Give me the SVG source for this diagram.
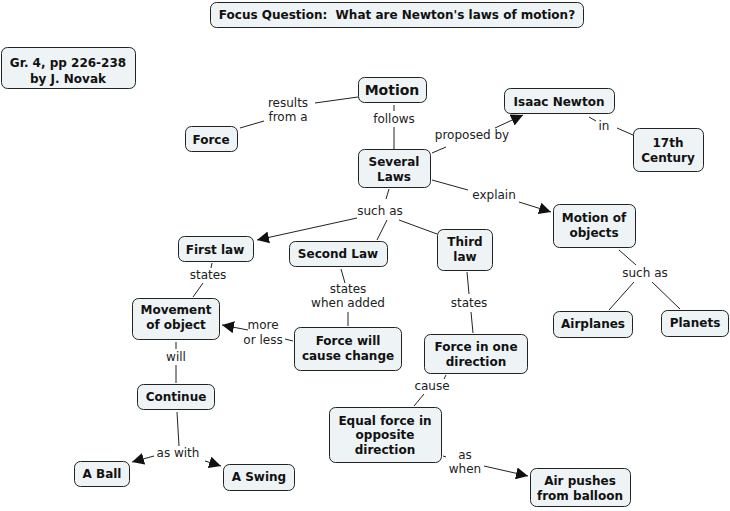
<svg xmlns="http://www.w3.org/2000/svg" width="730" height="511" viewBox="0 0 730 511">
<style>
.n rect{fill:#eef3f5;stroke:#222;stroke-width:1}
.n text{font-family:"DejaVu Sans",Verdana,sans-serif;font-weight:bold;font-size:12px;fill:#111;text-anchor:middle}
.l text{font-family:"DejaVu Sans",Verdana,sans-serif;font-size:12px;fill:#222;text-anchor:middle}
.c line{stroke:#222;stroke-width:1}
.a{marker-end:url(#ar)}
</style>
<defs>
<marker id="ar" viewBox="0 0 10 10" refX="10" refY="5" markerWidth="12" markerHeight="12" markerUnits="userSpaceOnUse" orient="auto"><path d="M0,0L10,5L0,10z" fill="#111"/></marker>
</defs>
<rect width="730" height="511" fill="#fff"/>
<g id="connectors" class="c">
<line x1="240" y1="128" x2="264" y2="121"/>
<line x1="315" y1="103" x2="358" y2="97"/>
<line x1="394" y1="105" x2="394" y2="111"/>
<line x1="394" y1="127" x2="394" y2="149"/>
<line x1="432" y1="153" x2="446" y2="147"/>
<line class="a" x1="495" y1="128" x2="523" y2="115"/>
<line x1="589" y1="117" x2="596" y2="121"/>
<line x1="617" y1="128" x2="633" y2="135"/>
<line x1="432" y1="180" x2="468" y2="190"/>
<line class="a" x1="519" y1="202" x2="551" y2="212"/>
<line x1="389" y1="189" x2="386" y2="199"/>
<line class="a" x1="357" y1="218" x2="257" y2="240"/>
<line x1="387" y1="220" x2="377" y2="240"/>
<line x1="399" y1="220" x2="437" y2="234"/>
<line x1="212" y1="263" x2="211" y2="268"/>
<line x1="203" y1="283" x2="193" y2="297"/>
<line x1="341" y1="269" x2="345" y2="283"/>
<line x1="348" y1="312" x2="348" y2="326"/>
<line class="a" x1="248" y1="330" x2="222" y2="325"/>
<line x1="293" y1="341" x2="285" y2="339"/>
<line x1="176" y1="342" x2="176" y2="349"/>
<line x1="176" y1="365" x2="176" y2="383"/>
<line x1="177" y1="412" x2="179" y2="446"/>
<line class="a" x1="154" y1="456" x2="132" y2="462"/>
<line class="a" x1="205" y1="461" x2="221" y2="466"/>
<line x1="467" y1="272" x2="469" y2="294"/>
<line x1="471" y1="312" x2="473" y2="333"/>
<line x1="446" y1="375" x2="444" y2="379"/>
<line x1="424" y1="394" x2="414" y2="406"/>
<line x1="443" y1="456" x2="446" y2="457"/>
<line class="a" x1="484" y1="466" x2="528" y2="476"/>
<line x1="619" y1="250" x2="636" y2="265"/>
<line x1="634" y1="282" x2="609" y2="310"/>
<line x1="652" y1="282" x2="680" y2="309"/>
</g>
<g class="l">
<text x="288" y="107">results</text><text x="288" y="121">from a</text>
<text x="394" y="123">follows</text>
<text x="472" y="139">proposed by</text>
<text x="604" y="130">in</text>
<text x="494" y="199">explain</text>
<text x="380" y="215">such as</text>
<text x="208" y="279">states</text>
<text x="348" y="293">states</text><text x="348" y="307">when added</text>
<text x="263" y="329">more</text><text x="263" y="344">or less</text>
<text x="176" y="361">will</text>
<text x="178" y="457">as with</text>
<text x="469" y="307">states</text>
<text x="432" y="390">cause</text>
<text x="465" y="459">as</text><text x="465" y="473">when</text>
<text x="645" y="277">such as</text>
</g>
<g id="focus" class="n"><rect x="210.5" y="2.5" width="373" height="25" rx="6"/><text x="397" y="19" xml:space="preserve">Focus Question:  What are Newton's laws of motion?</text></g>
<g id="gr4" class="n"><rect x="1.5" y="47.5" width="134" height="41" rx="6"/><text x="68" y="67">Gr. 4, pp 226-238</text><text x="68" y="83">by J. Novak</text></g>
<g id="motion" class="n"><rect x="358.5" y="77.5" width="68" height="25" rx="6"/><text x="392" y="95" style="font-size:14px">Motion</text></g>
<g id="force" class="n"><rect x="185.5" y="126.5" width="52" height="25" rx="6"/><text x="211" y="144">Force</text></g>
<g id="newton" class="n"><rect x="504.5" y="88.5" width="110" height="25" rx="6"/><text x="559" y="106">Isaac Newton</text></g>
<g id="century" class="n"><rect x="633.5" y="128.5" width="70" height="43" rx="6"/><text x="668" y="147">17th</text><text x="668" y="162">Century</text></g>
<g id="laws" class="n"><rect x="358.5" y="149.5" width="72" height="38" rx="6"/><text x="394" y="166">Several</text><text x="394" y="181">Laws</text></g>
<g id="motionobj" class="n"><rect x="553.5" y="204.5" width="82" height="43" rx="6"/><text x="594" y="222">Motion of</text><text x="594" y="237">objects</text></g>
<g id="first" class="n"><rect x="178.5" y="236.5" width="75" height="25" rx="6"/><text x="215" y="254">First law</text></g>
<g id="second" class="n"><rect x="289.5" y="241.5" width="98" height="25" rx="6"/><text x="338" y="258">Second Law</text></g>
<g id="third" class="n"><rect x="437.5" y="229.5" width="55" height="41" rx="6"/><text x="465" y="246">Third</text><text x="465" y="261">law</text></g>
<g id="movement" class="n"><rect x="132.5" y="298.5" width="87" height="41" rx="6"/><text x="176" y="314">Movement</text><text x="176" y="329">of object</text></g>
<g id="forcechange" class="n"><rect x="294.5" y="327.5" width="107" height="43" rx="6"/><text x="348" y="345">Force will</text><text x="348" y="360">cause change</text></g>
<g id="onedir" class="n"><rect x="424.5" y="334.5" width="103" height="39" rx="6"/><text x="476" y="351">Force in one</text><text x="476" y="366">direction</text></g>
<g id="airplanes" class="n"><rect x="553.5" y="311.5" width="79" height="26" rx="6"/><text x="593" y="328">Airplanes</text></g>
<g id="planets" class="n"><rect x="661.5" y="310.5" width="67" height="26" rx="6"/><text x="695" y="327">Planets</text></g>
<g id="continue" class="n"><rect x="137.5" y="384.5" width="77" height="25" rx="6"/><text x="176" y="401">Continue</text></g>
<g id="equal" class="n"><rect x="329.5" y="407.5" width="112" height="55" rx="6"/><text x="385" y="425">Equal force in</text><text x="385" y="439">opposite</text><text x="385" y="454">direction</text></g>
<g id="ball" class="n"><rect x="74.5" y="461.5" width="55" height="25" rx="6"/><text x="102" y="478">A Ball</text></g>
<g id="swing" class="n"><rect x="223.5" y="464.5" width="71" height="26" rx="6"/><text x="259" y="481">A Swing</text></g>
<g id="balloon" class="n"><rect x="530.5" y="468.5" width="100" height="38" rx="6"/><text x="580" y="485">Air pushes</text><text x="580" y="500">from balloon</text></g>
</svg>
